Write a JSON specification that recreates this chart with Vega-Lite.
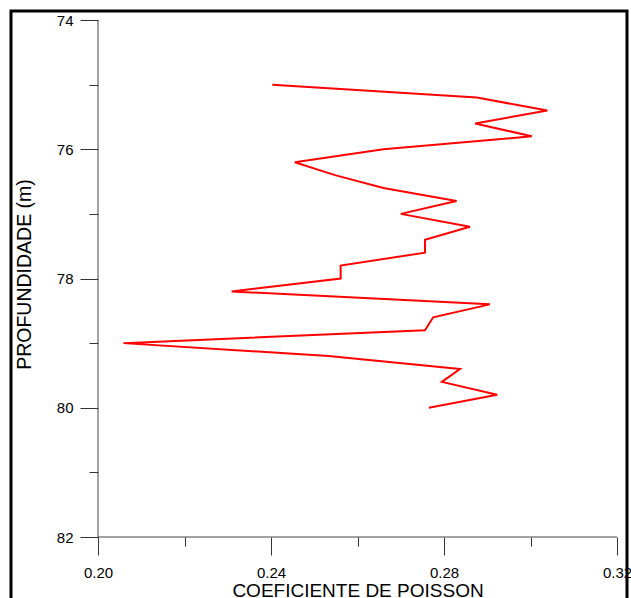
{
  "$schema": "https://vega.github.io/schema/vega-lite/v6.json",
  "width": 616,
  "height": 587,
  "autosize": {"type": "none"},
  "padding": {"left": 11, "top": 11, "right": 4, "bottom": 0},
  "background": "white",
  "config": {
    "font": "Liberation Sans",
    "view": {"stroke": "black", "strokeWidth": 3, "strokeDash": [1203, 616, 587]}
  },
  "datasets": {
    "poisson": [
      {"depth": 75.0, "poisson": 0.2403},
      {"depth": 75.2, "poisson": 0.2876},
      {"depth": 75.4, "poisson": 0.3039},
      {"depth": 75.6, "poisson": 0.2872},
      {"depth": 75.8, "poisson": 0.3003},
      {"depth": 76.0, "poisson": 0.2660},
      {"depth": 76.2, "poisson": 0.2455},
      {"depth": 76.4, "poisson": 0.2548},
      {"depth": 76.6, "poisson": 0.2660},
      {"depth": 76.8, "poisson": 0.2829},
      {"depth": 77.0, "poisson": 0.2700},
      {"depth": 77.2, "poisson": 0.2860},
      {"depth": 77.4, "poisson": 0.2756},
      {"depth": 77.6, "poisson": 0.2756},
      {"depth": 77.8, "poisson": 0.2561},
      {"depth": 78.0, "poisson": 0.2561},
      {"depth": 78.2, "poisson": 0.2309},
      {"depth": 78.4, "poisson": 0.2906},
      {"depth": 78.6, "poisson": 0.2775},
      {"depth": 78.8, "poisson": 0.2756},
      {"depth": 79.0, "poisson": 0.2059},
      {"depth": 79.2, "poisson": 0.2533},
      {"depth": 79.4, "poisson": 0.2837},
      {"depth": 79.6, "poisson": 0.2795},
      {"depth": 79.8, "poisson": 0.2923},
      {"depth": 80.0, "poisson": 0.2765}
    ],
    "axislines": [
      {"x": 0.20, "x2": 0.20, "y": 74, "y2": 82},
      {"x": 0.20, "x2": 0.32, "y": 82, "y2": 82}
    ]
  },
  "layer": [
    {
      "data": {"name": "poisson"},
      "mark": {"type": "line", "color": "#ff0000", "strokeWidth": 2},
      "encoding": {
        "x": {
          "field": "poisson", "type": "quantitative",
          "title": "COEFICIENTE DE POISSON",
          "scale": {"domain": [0.179884, 0.322312], "nice": false, "zero": false},
          "axis": {
            "orient": "bottom", "offset": -61, "domain": false, "grid": false,
            "values": [0.20, 0.22, 0.24, 0.26, 0.28, 0.30, 0.32],
            "format": ".2f",
            "labelExpr": "round(datum.value*100)%4==0 ? datum.label : ''",
            "tickSize": {"condition": {"test": "round(datum.value*100)%4==0", "value": 18}, "value": 9},
            "tickColor": "#333", "tickWidth": 1,
            "labelFontSize": 15, "labelFontWeight": "normal", "labelPadding": 10, "labelColor": "black",
            "labelOverlap": false, "labelFlush": false,
            "titleFontSize": 19, "titleFontWeight": "normal", "titleColor": "black",
            "titleX": 346.5, "titleY": 59.6, "titleBaseline": "alphabetic", "titleAlign": "center"
          }
        },
        "y": {
          "field": "depth", "type": "quantitative",
          "title": "PROFUNDIDADE (m)",
          "scale": {"domain": [73.8607, 82.9439], "reverse": true, "nice": false, "zero": false},
          "axis": {
            "orient": "left", "offset": -87, "domain": false, "grid": false,
            "values": [74, 75, 76, 77, 78, 79, 80, 81, 82],
            "format": "d",
            "labelExpr": "datum.value%2==0 ? datum.label : ''",
            "tickSize": {"condition": {"test": "datum.value%2==1", "value": 9}, "value": 18},
            "tickColor": "#333", "tickWidth": 1,
            "labelFontSize": 15, "labelFontWeight": "normal", "labelPadding": 7, "labelColor": "black",
            "labelOverlap": false, "labelFlush": false,
            "titleFontSize": 19.5, "titleFontWeight": "normal", "titleColor": "black",
            "titleX": -74, "titleY": 263, "titleBaseline": "middle", "titleAlign": "center", "titleAngle": 270
          }
        },
        "order": {"field": "depth", "type": "quantitative"}
      }
    },
    {
      "data": {"name": "axislines"},
      "mark": {"type": "rule", "color": "#444", "strokeWidth": 1},
      "encoding": {
        "x": {"field": "x", "type": "quantitative", "title": "COEFICIENTE DE POISSON"},
        "x2": {"field": "x2"},
        "y": {"field": "y", "type": "quantitative", "title": "PROFUNDIDADE (m)"},
        "y2": {"field": "y2"}
      }
    }
  ]
}
